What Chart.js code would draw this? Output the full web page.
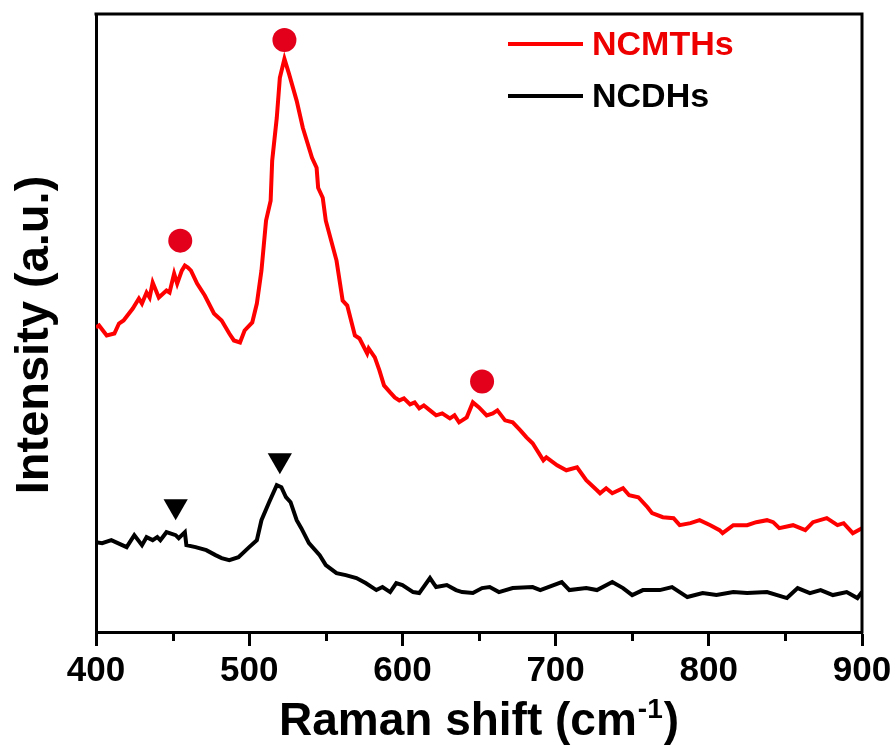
<!DOCTYPE html>
<html>
<head>
<meta charset="utf-8">
<title>Raman spectra</title>
<script src="https://cdn.jsdelivr.net/npm/chart.js@4/dist/chart.umd.min.js"></script>
<style>
    html, body { margin: 0; padding: 0; background: #fff; }
    #wrap { width: 896px; height: 748px; }
</style>
</head>
<body>
<div id="wrap"><canvas id="raman"></canvas></div>
<script>
// valores (intensidad en unidades arbitrarias)
const ncmthsShift = [
    400, 402, 407, 412, 415, 418, 424, 428, 430, 433,
    435, 437, 441, 446, 448, 451, 453, 456, 458, 460,
    462, 466, 471, 477, 482, 487, 490, 494, 497, 502,
    505, 508, 511, 514, 515, 518, 520, 523, 526, 531,
    535, 541, 544, 545, 548, 550, 557, 561, 564, 569,
    572, 577, 578, 582, 585, 588, 592, 595, 598, 601,
    605, 608, 611, 614, 618, 622, 626, 631, 634, 637,
    642, 646, 650, 655, 659, 662, 667, 672, 677, 681,
    685, 692, 694, 701, 707, 714, 720, 727, 729, 733,
    737, 744, 748, 754, 760, 763, 770, 777, 781, 788,
    794, 801, 807, 809, 816, 825, 831, 838, 842, 846,
    855, 863, 868, 877, 884, 888, 894, 900
];
const ncmthsIntensity = [
    305, 307, 297, 299, 309, 312, 324, 334, 329, 340,
    335, 350, 335, 342, 340, 359, 349, 362, 367, 365,
    362, 349, 337, 319, 312, 299, 292, 290, 302, 310,
    329, 362, 412, 432, 472, 515, 555, 574, 559, 532,
    505, 475, 465, 445, 435, 412, 372, 332, 327, 297,
    294, 279, 284, 275, 262, 247, 240, 235, 232, 234,
    228, 230, 224, 227, 222, 217, 219, 214, 217, 210,
    215, 230, 225, 217, 219, 222, 212, 210, 202, 195,
    189, 172, 175, 167, 162, 165, 152, 142, 139, 144,
    139, 144, 137, 135, 125, 119, 115, 114, 107, 109,
    112, 107, 102, 99, 107, 107, 110, 112, 110, 104,
    107, 102, 110, 114, 107, 109, 99, 104
];

const ncdhsShift = [
    400, 404, 410, 420, 425, 430, 433, 437, 440, 442,
    446, 452, 454, 458, 459, 465, 472, 478, 482, 487,
    493, 500, 505, 508, 513, 518, 521, 524, 527, 531,
    534, 539, 546, 550, 557, 563, 570, 576, 583, 587,
    592, 596, 600, 607, 611, 618, 622, 629, 635, 639,
    646, 652, 657, 663, 672, 685, 690, 704, 709, 720,
    727, 737, 744, 750, 757, 768, 776, 786, 796, 805,
    816, 825, 838, 851, 858, 866, 873, 881, 890, 897,
    900
];
const ncdhsIntensity = [
    90, 89, 92, 85, 97, 87, 95, 92, 95, 92,
    100, 97, 94, 100, 87, 85, 82, 77, 74, 72,
    75, 85, 92, 112, 130, 147, 145, 135, 130, 112,
    104, 89, 77, 67, 59, 57, 54, 49, 42, 45,
    40, 49, 47, 40, 39, 54, 45, 47, 42, 40,
    39, 44, 45, 40, 44, 45, 42, 50, 42, 44,
    42, 50, 44, 37, 42, 42, 45, 35, 39, 37,
    40, 39, 40, 34, 44, 39, 42, 37, 40, 34,
    40
];

// marcadores de los picos
const circlePeakShift = [455, 523, 652];
const circlePeakIntensity = [392, 593, 251];
const trianglePeakShift = [452, 520];
const trianglePeakIntensity = [126, 172];

const xTickLabels = [400, 500, 600, 700, 800, 900];
const seriesNames = ['NCMTHs', 'NCDHs'];

const FONT = "'Liberation Sans', Arial, sans-serif";
const RED = '#ff0000';

function toPoints(xs, ys) {
    return xs.map((x, i) => ({ x: x, y: ys[i] }));
}

// marco superior/derecho, ticks menores, titulos de ejes y leyenda
const decorPlugin = {
    id: 'decor',
    afterDraw(chart) {
        const ctx = chart.ctx;
        const a = chart.chartArea;
        const xs = chart.scales.x;
        ctx.save();

        ctx.strokeStyle = '#000';
        ctx.lineWidth = 3;
        ctx.beginPath();
        ctx.moveTo(a.left - 1.5, a.top);
        ctx.lineTo(a.right, a.top);
        ctx.lineTo(a.right, a.bottom + 1.5);
        ctx.stroke();

        // ticks menores entre las etiquetas
        ctx.beginPath();
        for (let i = 0; i < xTickLabels.length - 1; i++) {
            const px = Math.round(xs.getPixelForValue((xTickLabels[i] + xTickLabels[i + 1]) / 2)) + 0.5;
            ctx.moveTo(px, a.bottom);
            ctx.lineTo(px, a.bottom + 9);
        }
        ctx.stroke();

        // titulo eje x con superindice
        ctx.fillStyle = '#000';
        ctx.textBaseline = 'alphabetic';
        ctx.textAlign = 'left';
        const mainFont = 'bold 46px ' + FONT;
        const supFont = 'bold 28px ' + FONT;
        const part1 = 'Raman shift (cm';
        const sup = '-1';
        const part2 = ')';
        ctx.font = mainFont;
        const w1 = ctx.measureText(part1).width;
        const w3 = ctx.measureText(part2).width;
        ctx.font = supFont;
        const w2 = ctx.measureText(sup).width;
        let tx = (a.left + a.right) / 2 - (w1 + w2 + w3 + 2) / 2;
        const ty = a.bottom + 103;
        ctx.font = mainFont;
        ctx.fillText(part1, tx, ty);
        ctx.font = supFont;
        ctx.fillText(sup, tx + w1 + 1, ty - 17);
        ctx.font = mainFont;
        ctx.fillText(part2, tx + w1 + w2 + 2, ty);

        // titulo eje y
        ctx.save();
        ctx.translate(48, (a.top + a.bottom) / 2 + 12);
        ctx.rotate(-Math.PI / 2);
        ctx.font = 'bold 47px ' + FONT;
        ctx.textAlign = 'center';
        ctx.fillText('Intensity (a.u.)', 0, 0);
        ctx.restore();

        // leyenda
        const colors = [RED, '#000'];
        const textColors = ['#ee0000', '#000'];
        const rows = [43, 95];
        ctx.font = 'bold 34px ' + FONT;
        ctx.textAlign = 'left';
        ctx.textBaseline = 'middle';
        ctx.lineWidth = 4;
        seriesNames.forEach((name, i) => {
            const y = a.top + rows[i] - 13;
            ctx.strokeStyle = colors[i];
            ctx.beginPath();
            ctx.moveTo(a.right - 354, y);
            ctx.lineTo(a.right - 279, y);
            ctx.stroke();
            ctx.fillStyle = textColors[i];
            ctx.fillText(name, a.right - 270, y + 2);
        });

        ctx.restore();
    }
};

document.addEventListener('DOMContentLoaded', function () {
    const canvas = document.getElementById('raman');

    new Chart(canvas, {
        type: 'line',
        data: {
            datasets: [
                {
                    type: 'scatter',
                    data: toPoints(circlePeakShift, circlePeakIntensity),
                    pointStyle: 'circle',
                    pointRadius: 12,
                    pointBorderWidth: 0,
                    backgroundColor: '#e3001b',
                    borderColor: '#e3001b',
                    order: 0
                },
                {
                    type: 'scatter',
                    data: toPoints(trianglePeakShift, trianglePeakIntensity),
                    pointStyle: 'triangle',
                    rotation: 180,
                    pointRadius: 14,
                    pointBorderWidth: 0,
                    backgroundColor: '#000',
                    borderColor: '#000',
                    order: 0
                },
                {
                    label: seriesNames[0],
                    data: toPoints(ncmthsShift, ncmthsIntensity),
                    borderColor: RED,
                    borderWidth: 4,
                    pointRadius: 0,
                    tension: 0,
                    fill: false,
                    order: 1
                },
                {
                    label: seriesNames[1],
                    data: toPoints(ncdhsShift, ncdhsIntensity),
                    borderColor: '#000',
                    borderWidth: 4,
                    pointRadius: 0,
                    tension: 0,
                    fill: false,
                    order: 2
                }
            ]
        },
        options: {
            responsive: true,
            maintainAspectRatio: false,
            animation: false,
            layout: { padding: { left: 96, right: 34, top: 13, bottom: 0 } },
            plugins: {
                legend: { display: false },
                tooltip: { enabled: false }
            },
            scales: {
                x: {
                    type: 'linear',
                    min: 400,
                    max: 900,
                    afterFit: s => { s.height = 116; },
                    border: { display: true, color: '#000', width: 3 },
                    grid: {
                        drawOnChartArea: false,
                        tickLength: 14,
                        tickWidth: 3,
                        tickColor: c => (c.tick && xTickLabels.includes(c.tick.value)) ? '#000' : 'rgba(0,0,0,0)'
                    },
                    ticks: {
                        stepSize: 50,
                        autoSkip: false,
                        maxRotation: 0,
                        padding: 4,
                        color: '#000',
                        font: { family: FONT, size: 35, weight: 'bold' },
                        callback: v => xTickLabels.includes(v) ? String(v) : ''
                    }
                },
                y: {
                    min: 0,
                    max: 619,
                    afterFit: s => { s.width = 0; },
                    border: { display: true, color: '#000', width: 3 },
                    grid: { display: false },
                    ticks: { display: false }
                }
            }
        },
        plugins: [decorPlugin]
    });
});
</script>
</body>
</html>
